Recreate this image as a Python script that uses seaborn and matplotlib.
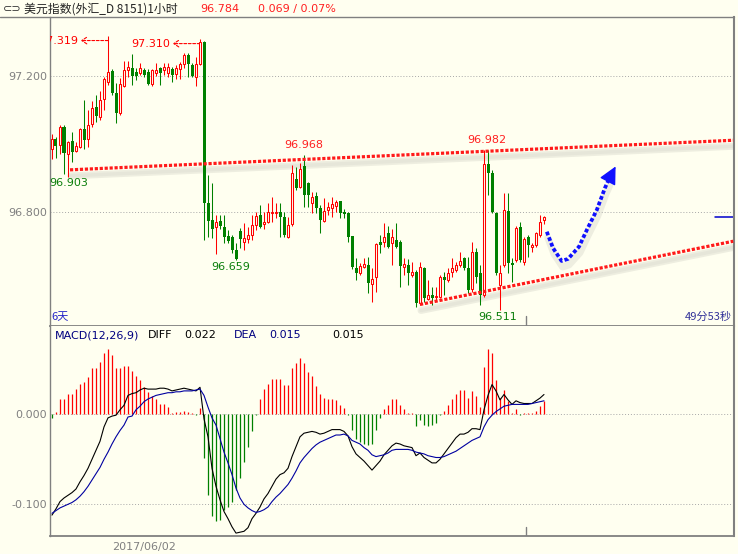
import numpy as np
import pandas as pd
import matplotlib
matplotlib.use("Agg")
import matplotlib.pyplot as plt
import matplotlib.transforms as mtransforms
from matplotlib.lines import Line2D
import seaborn as sns

# --- hourly candles of the US dollar index ---
open_ = [96.985, 97.015, 96.997, 97.050, 96.971, 97.009, 96.979, 96.991, 97.044, 97.015,
         97.059, 97.109, 97.079, 97.132, 97.182, 97.215, 97.150, 97.091, 97.171, 97.218,
         97.224, 97.212, 97.209, 97.218, 97.212, 97.176, 97.209, 97.224, 97.218, 97.209,
         97.221, 97.206, 97.221, 97.235, 97.262, 97.232, 97.197, 97.235, 97.300, 96.826,
         96.776, 96.756, 96.774, 96.756, 96.729, 96.726, 96.688, 96.744, 96.712, 96.721,
         96.732, 96.762, 96.791, 96.765, 96.771, 96.797, 96.797, 96.800, 96.785, 96.726,
         96.765, 96.897, 96.874, 96.935, 96.885, 96.826, 96.847, 96.812, 96.774, 96.806,
         96.812, 96.818, 96.832, 96.800, 96.797, 96.729, 96.635, 96.621, 96.638, 96.644,
         96.588, 96.609, 96.712, 96.712, 96.738, 96.709, 96.718, 96.712, 96.638, 96.644,
         96.615, 96.624, 96.532, 96.635, 96.544, 96.556, 96.550, 96.550, 96.609, 96.600,
         96.624, 96.629, 96.644, 96.665, 96.635, 96.574, 96.682, 96.621, 96.556, 96.941,
         96.915, 96.797, 96.585, 96.644, 96.803, 96.650, 96.659, 96.756, 96.653, 96.726,
         96.697, 96.703, 96.732, 96.776]
high = [97.029, 97.021, 97.056, 97.056, 97.009, 97.035, 97.006, 97.047, 97.129, 97.100,
        97.126, 97.144, 97.156, 97.197, 97.319, 97.221, 97.179, 97.194, 97.244, 97.244,
        97.265, 97.224, 97.238, 97.224, 97.221, 97.221, 97.238, 97.226, 97.238, 97.238,
        97.226, 97.232, 97.241, 97.268, 97.268, 97.238, 97.256, 97.310, 97.303, 96.909,
        96.885, 96.791, 96.791, 96.791, 96.747, 96.732, 96.709, 96.753, 96.768, 96.756,
        96.791, 96.800, 96.821, 96.800, 96.826, 96.844, 96.826, 96.826, 96.800, 96.785,
        96.938, 96.932, 96.944, 96.968, 96.888, 96.859, 96.859, 96.821, 96.841, 96.829,
        96.844, 96.835, 96.832, 96.809, 96.800, 96.729, 96.665, 96.650, 96.665, 96.668,
        96.635, 96.709, 96.732, 96.768, 96.759, 96.750, 96.768, 96.718, 96.665, 96.662,
        96.653, 96.629, 96.653, 96.638, 96.600, 96.579, 96.579, 96.615, 96.624, 96.635,
        96.665, 96.653, 96.682, 96.668, 96.668, 96.712, 96.694, 96.644, 96.982, 96.982,
        96.924, 96.800, 96.644, 96.856, 96.856, 96.665, 96.759, 96.771, 96.726, 96.732,
        96.709, 96.741, 96.791, 96.788]
low = [96.956, 96.959, 96.971, 96.912, 96.903, 96.947, 96.976, 96.988, 96.985, 96.991,
       97.050, 97.065, 97.071, 97.100, 97.174, 97.144, 97.062, 97.085, 97.168, 97.197,
       97.174, 97.188, 97.203, 97.197, 97.174, 97.171, 97.200, 97.174, 97.203, 97.197,
       97.182, 97.191, 97.191, 97.224, 97.197, 97.197, 97.171, 97.232, 96.718, 96.726,
       96.724, 96.677, 96.750, 96.709, 96.709, 96.679, 96.659, 96.694, 96.688, 96.709,
       96.718, 96.747, 96.753, 96.750, 96.768, 96.771, 96.782, 96.726, 96.726, 96.724,
       96.759, 96.865, 96.871, 96.815, 96.815, 96.797, 96.797, 96.738, 96.771, 96.791,
       96.785, 96.800, 96.782, 96.782, 96.712, 96.632, 96.600, 96.615, 96.635, 96.562,
       96.535, 96.565, 96.679, 96.697, 96.694, 96.644, 96.694, 96.579, 96.615, 96.585,
       96.609, 96.521, 96.527, 96.535, 96.541, 96.527, 96.541, 96.547, 96.556, 96.594,
       96.609, 96.624, 96.638, 96.629, 96.562, 96.565, 96.591, 96.527, 96.550, 96.850,
       96.797, 96.615, 96.511, 96.638, 96.621, 96.594, 96.653, 96.653, 96.644, 96.668,
       96.682, 96.697, 96.726, 96.765]
close = [97.015, 96.994, 97.050, 96.974, 97.006, 96.976, 96.994, 97.044, 97.012, 97.056,
         97.106, 97.082, 97.129, 97.191, 97.212, 97.150, 97.091, 97.176, 97.218, 97.226,
         97.200, 97.200, 97.224, 97.203, 97.176, 97.218, 97.218, 97.209, 97.226, 97.226,
         97.203, 97.224, 97.235, 97.262, 97.235, 97.200, 97.235, 97.300, 96.826, 96.774,
         96.750, 96.771, 96.759, 96.726, 96.715, 96.688, 96.662, 96.721, 96.724, 96.732,
         96.762, 96.788, 96.756, 96.771, 96.800, 96.800, 96.800, 96.785, 96.732, 96.762,
         96.915, 96.871, 96.926, 96.850, 96.850, 96.844, 96.812, 96.776, 96.803, 96.815,
         96.824, 96.829, 96.797, 96.794, 96.726, 96.638, 96.621, 96.641, 96.647, 96.591,
         96.603, 96.706, 96.703, 96.726, 96.697, 96.726, 96.697, 96.641, 96.647, 96.621,
         96.624, 96.532, 96.638, 96.547, 96.556, 96.547, 96.553, 96.609, 96.600, 96.621,
         96.635, 96.644, 96.656, 96.635, 96.571, 96.682, 96.609, 96.556, 96.941, 96.915,
         96.800, 96.621, 96.621, 96.806, 96.650, 96.644, 96.753, 96.659, 96.721, 96.703,
         96.703, 96.738, 96.771, 96.784]

# --- MACD(12,26,9) panel ---
macd_diff = [-0.112, -0.105, -0.097, -0.093, -0.090, -0.087, -0.083, -0.075, -0.068, -0.060,
             -0.050, -0.040, -0.030, -0.014, -0.004, -0.002, -0.001, 0.005, 0.010, 0.021,
             0.023, 0.024, 0.027, 0.029, 0.028, 0.028, 0.028, 0.029, 0.029, 0.028,
             0.026, 0.027, 0.028, 0.029, 0.028, 0.027, 0.026, 0.030, -0.005, -0.025,
             -0.060, -0.080, -0.095, -0.108, -0.116, -0.125, -0.132, -0.131, -0.130, -0.126,
             -0.116, -0.110, -0.103, -0.094, -0.088, -0.080, -0.072, -0.067, -0.065, -0.060,
             -0.047, -0.036, -0.025, -0.021, -0.020, -0.019, -0.020, -0.022, -0.021, -0.019,
             -0.017, -0.017, -0.017, -0.019, -0.024, -0.036, -0.044, -0.048, -0.052, -0.057,
             -0.062, -0.057, -0.052, -0.045, -0.040, -0.035, -0.032, -0.033, -0.035, -0.036,
             -0.037, -0.046, -0.043, -0.048, -0.051, -0.054, -0.054, -0.050, -0.044, -0.038,
             -0.032, -0.026, -0.022, -0.022, -0.020, -0.016, -0.016, -0.017, 0.005, 0.021,
             0.033, 0.026, 0.016, 0.022, 0.016, 0.011, 0.015, 0.013, 0.012, 0.012,
             0.012, 0.015, 0.018, 0.022]
macd_dea = [-0.110, -0.107, -0.104, -0.102, -0.100, -0.098, -0.095, -0.091, -0.086, -0.080,
            -0.073, -0.066, -0.059, -0.050, -0.042, -0.033, -0.025, -0.018, -0.012, -0.003,
            -0.002, 0.005, 0.009, 0.014, 0.017, 0.019, 0.021, 0.022, 0.023, 0.024,
            0.024, 0.025, 0.025, 0.026, 0.026, 0.026, 0.027, 0.028, 0.021, 0.008,
            -0.004, -0.012, -0.027, -0.042, -0.054, -0.067, -0.082, -0.093, -0.100, -0.104,
            -0.107, -0.109, -0.108, -0.106, -0.103, -0.097, -0.092, -0.088, -0.083, -0.078,
            -0.071, -0.063, -0.054, -0.048, -0.043, -0.038, -0.034, -0.031, -0.029, -0.027,
            -0.025, -0.023, -0.023, -0.022, -0.024, -0.029, -0.031, -0.033, -0.037, -0.040,
            -0.045, -0.047, -0.046, -0.045, -0.043, -0.040, -0.039, -0.039, -0.039, -0.039,
            -0.040, -0.042, -0.043, -0.044, -0.046, -0.047, -0.048, -0.048, -0.047, -0.045,
            -0.043, -0.041, -0.038, -0.035, -0.032, -0.029, -0.027, -0.025, -0.014, -0.006,
            -0.001, 0.003, 0.006, 0.009, 0.010, 0.011, 0.011, 0.011, 0.011, 0.011,
            0.012, 0.013, 0.014, 0.015]
macd_hist = [-0.004, 0.003, 0.017, 0.017, 0.023, 0.023, 0.028, 0.034, 0.036, 0.041,
             0.051, 0.052, 0.058, 0.068, 0.073, 0.066, 0.051, 0.051, 0.054, 0.054,
             0.048, 0.043, 0.038, 0.030, 0.025, 0.020, 0.017, 0.012, 0.011, 0.008,
             0.002, 0.003, 0.003, 0.004, 0.003, 0.001, -0.001, 0.007, -0.049, -0.090,
             -0.113, -0.119, -0.117, -0.106, -0.103, -0.097, -0.084, -0.071, -0.053, -0.036,
             -0.018, -0.001, 0.017, 0.028, 0.034, 0.039, 0.039, 0.039, 0.033, 0.033,
             0.051, 0.057, 0.063, 0.057, 0.047, 0.043, 0.031, 0.023, 0.018, 0.017,
             0.017, 0.016, 0.010, 0.007, -0.001, -0.017, -0.027, -0.031, -0.033, -0.034,
             -0.033, -0.017, -0.004, 0.006, 0.010, 0.017, 0.017, 0.010, 0.006, 0.001,
             0.001, -0.013, -0.006, -0.012, -0.013, -0.012, -0.010, -0.001, 0.004, 0.010,
             0.017, 0.023, 0.027, 0.027, 0.018, 0.026, 0.020, 0.008, 0.053, 0.073,
             0.068, 0.038, 0.018, 0.027, 0.015, 0.001, 0.006, -0.001, 0.001, 0.001,
             0.001, 0.004, 0.009, 0.015]

# hand drawn channel and forecast arrow (candle index, price)
channel_top_x = [4.5, 170.3]
channel_top_y = [96.924, 97.011]
channel_bot_x = [92.0, 170.3]
channel_bot_y = [96.528, 96.714]
forecast_x = [123.7, 125.25, 127.4, 129.0, 131.75, 133.7, 136.2, 138.25, 139.25]
forecast_y = [96.742, 96.694, 96.656, 96.662, 96.698, 96.747, 96.806, 96.871, 96.897]
forecast_tip = (140.9, 96.934)

BG = "#FFFFF0"
RED = "#FF0000"
GREEN = "#008000"
LABEL_GREEN = "#0B7F0B"
GRAY = "#808080"
W, H = 738, 554

sns.set_theme(style="white")
plt.rcParams["font.family"] = ["DejaVu Sans", "Noto Sans CJK SC"]


def box(l, t, r, b):
    return [l / W, 1 - b / H, (r - l) / W, (b - t) / H]


fig = plt.figure(figsize=(W / 100, H / 100), dpi=100, facecolor=BG)
ax = fig.add_axes(box(50, 17, 734, 326), facecolor=BG)
axm = fig.add_axes(box(50, 326, 734, 536), facecolor=BG)

df = pd.DataFrame({"open": open_, "high": high, "low": low, "close": close,
                   "diff": macd_diff, "dea": macd_dea, "hist": macd_hist})
df["idx"] = np.arange(len(df))
up = (df["close"] >= df["open"]).values
idx = df["idx"].values

# --- candles ---
ax.vlines(idx, df["low"], df["high"], colors=np.where(up, RED, GREEN), lw=0.75, zorder=3)
body_lo = np.minimum(df["open"], df["close"]).values
body_h = np.maximum(np.abs(df["close"] - df["open"]).values, 0.003)
ax.bar(idx[up], body_h[up], bottom=body_lo[up], width=0.5, facecolor=BG,
       edgecolor=RED, linewidth=0.75, zorder=4)
ax.bar(idx[~up], body_h[~up], bottom=body_lo[~up], width=0.75, color=GREEN,
       linewidth=0, zorder=4)

ax.set_xlim(-0.5, 170.5)
ax.set_ylim(97.2 - 250 / 340, 97.2 + 59 / 340)

# channel lines with soft shadow
shadow = mtransforms.offset_copy(ax.transData, fig=fig, x=1, y=-6, units="dots")
for xs, ys in [(channel_top_x, channel_top_y), (channel_bot_x, channel_bot_y)]:
    ax.plot(xs, ys, color="#c8c8bc", lw=5, alpha=0.3, transform=shadow,
            solid_capstyle="round", zorder=2)
    ax.plot(xs, ys, color="#ddddd2", lw=2.5, alpha=0.45, transform=shadow, zorder=2)
    ax.plot(xs, ys, color="#FF1A1A", lw=2.3, ls=(0, (1, 0.55)),
            dash_capstyle="butt", zorder=5)

ax.plot(forecast_x, forecast_y, color="#c8c8bc", lw=5, alpha=0.3,
        transform=shadow, zorder=2)
ax.plot(forecast_x, forecast_y, color="#1010FF", lw=2.7, ls=(0, (1, 0.6)),
        dash_capstyle="butt", zorder=5)
ax.annotate("", xy=forecast_tip, xytext=(forecast_x[-1], forecast_y[-1]),
            arrowprops=dict(arrowstyle="-|>,head_length=0.9,head_width=0.45",
                            color="#1010FF", lw=1, shrinkA=0, shrinkB=0,
                            mutation_scale=12), zorder=6)

# last price marker at right edge
ax.axhline(close[-1], xmin=0.972, xmax=1, color="#0000CC", lw=1.1)

# high / low labels
off = mtransforms.offset_copy(ax.transData, fig=fig, x=0, y=-5, units="dots")
for i in (14, 37):
    ax.annotate("", xy=(i - 6.8, high[i]), xycoords=off, xytext=(i, high[i]),
                textcoords=off,
                arrowprops=dict(arrowstyle="->,head_length=0.3,head_width=0.2",
                                color=RED, lw=0.8, ls=(0, (2.5, 1.5)),
                                shrinkA=0, shrinkB=0))
    t = ax.text(i - 7.4, high[i], f"{high[i]:.3f}", transform=off, ha="right",
                va="center", color=RED, fontsize=8, zorder=6)
    t.set_clip_on(True)

for i, dx in [(63, 0), (108.8, 0)]:
    p = high[int(i)]
    ax.annotate(f"{p:.3f}", xy=(i, p), xytext=(dx, 10), textcoords="offset pixels",
                ha="center", va="center", color="#FF2020", fontsize=8)
for i, dx, dy in [(4, 1, -6), (46, -5, -7), (112, -2, -7)]:
    ax.annotate(f"{low[i]:.3f}", xy=(i, low[i]), xytext=(dx, dy),
                textcoords="offset pixels", ha="center", va="center",
                color=LABEL_GREEN, fontsize=8)

# --- MACD ---
axm.vlines(idx, 0, df["hist"], colors=np.where(df["hist"] >= 0, RED, GREEN),
           lw=0.9, zorder=3)
sns.lineplot(data=df, x="idx", y="diff", ax=axm, color="black", lw=0.8, zorder=4)
sns.lineplot(data=df, x="idx", y="dea", ax=axm, color="#0000A0", lw=0.8, zorder=4)
axm.set_xlim(-0.5, 170.5)
axm.set_ylim((414.3 - 536) / 900, (414.3 - 326) / 900)
axm.set_xlabel("")
axm.set_ylabel("")

# axes styling
for a, ticks, labels in [(ax, [97.2, 96.8], ["97.200", "96.800"]),
                         (axm, [0.0, -0.1], ["0.000", "-0.100"])]:
    a.set_yticks(ticks)
    a.set_yticklabels(labels)
    a.tick_params(axis="y", length=0, pad=2, labelsize=8, labelcolor=GRAY)
    a.grid(axis="y", color="#A8A8A8", lw=0.7, ls=(0, (1, 2)))
    a.grid(axis="x", visible=False)
    a.set_axisbelow(True)
    for s in ("left", "right", "bottom", "top"):
        a.spines[s].set_color(GRAY)
    a.spines["left"].set_linewidth(1.0)
    a.spines["right"].set_linewidth(1.5)
    a.spines["bottom"].set_linewidth(1.3)
    a.spines["top"].set_visible(False)

ax.set_xticks([])
axm.set_xticks([23])
axm.set_xticklabels(["2017/06/02"])
axm.tick_params(axis="x", length=0, pad=4, labelsize=8, labelcolor=GRAY)

# day break ticks
ax.axvline(118.5, ymin=0, ymax=10 / 309, color=GRAY, lw=1)
axm.axvline(118.5, ymin=0, ymax=9 / 210, color=GRAY, lw=1)

# top border across the window
fig.add_artist(Line2D([0, 734 / W], [1 - 17 / H, 1 - 17 / H], color=GRAY, lw=1.0))

# header
ty = 1 - 9 / H
fig.text(3 / W, ty, "⊂⊃", fontsize=8, color="#333333", va="center")
fig.text(24 / W, ty, "美元指数(外汇_D 8151)1小时", fontsize=8.6, color="#222222",
         va="center", family=["Noto Sans CJK SC", "DejaVu Sans"])
fig.text(200 / W, ty, f"{close[-1]:.3f}", fontsize=8, color="#FF2020", va="center")
fig.text(258 / W, ty, "0.069 / 0.07%", fontsize=8, color="#FF2020", va="center")

fig.text(51 / W, 1 - 317 / H, "6天", fontsize=8, color="#2323C8", va="center",
         family=["Noto Sans CJK SC", "DejaVu Sans"])
fig.text(732 / W, 1 - 317 / H, "49分53秒", fontsize=8, color="#333399", va="center",
         ha="right", family=["Noto Sans CJK SC", "DejaVu Sans"])

my = 1 - 335 / H
fig.text(55 / W, my, "MACD(12,26,9)", fontsize=8, color="#000080", va="center")
fig.text(148 / W, my, "DIFF", fontsize=8, color="black", va="center")
fig.text(184 / W, my, f"{macd_diff[-1]:.3f}", fontsize=8, color="black", va="center")
fig.text(234 / W, my, "DEA", fontsize=8, color="#000080", va="center")
fig.text(269 / W, my, f"{macd_dea[-1]:.3f}", fontsize=8, color="#000080", va="center")
fig.text(332 / W, my, f"{macd_hist[-1]:.3f}", fontsize=8, color="black", va="center")

fig.savefig("out.png", dpi=100, facecolor=BG)
